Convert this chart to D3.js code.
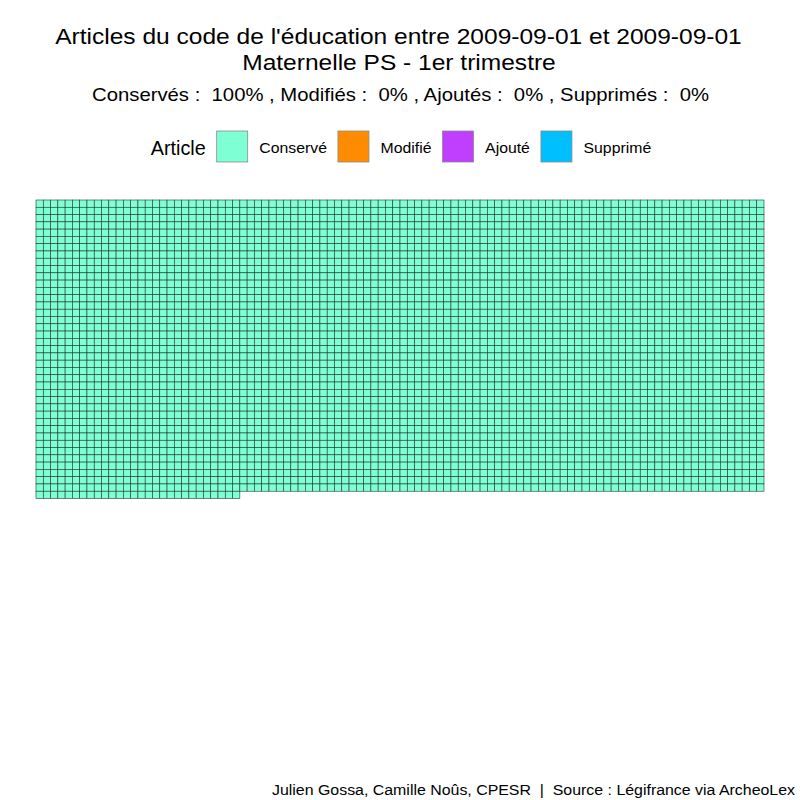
<!DOCTYPE html>
<html>
<head>
<meta charset="utf-8">
<script src="https://cdn.jsdelivr.net/npm/d3@7"></script>
<style>
  body { margin: 0; background: #fff; }
  svg { display: block; font-family: "Liberation Sans", Arial, Helvetica, sans-serif; }
  text { white-space: pre; }
</style>
</head>
<body>
<svg id="chart" width="800" height="800"></svg>
<script>
// ---- Data ----
const categories = ["Conservé", "Modifié", "Ajouté", "Supprimé"];
const counts = [4028, 0, 0, 0];
const colors = ["#7FFFD4", "#FF8C00", "#BF3EFF", "#00BFFF"];
const titleLines = ["Articles du code de l'éducation entre 2009-09-01 et 2009-09-01", "Maternelle PS - 1er trimestre"];
const subtitle = "Conservés :  100% , Modifiés :  0% , Ajoutés :  0% , Supprimés :  0%";
const caption = "Julien Gossa, Camille Noûs, CPESR  |  Source : Légifrance via ArcheoLex";
const legendTitle = "Article";
const nCols = 100;

// ---- Build cells ----
const cells = [];
categories.forEach((c, ci) => {
  for (let k = 0; k < counts[ci]; k++) cells.push({ cat: c, color: colors[ci] });
});
cells.forEach((d, i) => { d.col = i % nCols; d.row = Math.floor(i / nCols); });
const nRows = Math.ceil(cells.length / nCols);

const svg = d3.select("#chart");

// horizontal stretch helper (reference glyphs are wider than local font)
function stretch(sel, k) {
  const w = sel.node().getComputedTextLength();
  sel.attr("textLength", w * k).attr("lengthAdjust", "spacingAndGlyphs");
  return w * k;
}
const K = 1.115;
const KL = 1.09;

// ---- Titles ----
stretch(svg.append("text").attr("x", 398.5).attr("y", 44).attr("text-anchor", "middle")
  .attr("font-size", 22).attr("fill", "#000").text(titleLines[0]), K);
stretch(svg.append("text").attr("x", 399).attr("y", 69.5).attr("text-anchor", "middle")
  .attr("font-size", 22).attr("fill", "#000").text(titleLines[1]), K);
{
  const t = svg.append("text").attr("x", 400.5).attr("y", 101).attr("text-anchor", "middle")
    .attr("font-size", 19).attr("fill", "#000").text(subtitle);
  stretch(t, 617 / t.node().getComputedTextLength());
}
{
  const t = svg.append("text").attr("x", 795).attr("y", 795).attr("text-anchor", "end")
    .attr("font-size", 14).attr("fill", "#000").text(caption);
  stretch(t, 523 / t.node().getComputedTextLength());
}

// ---- Legend ----
const lg = svg.append("g");
const lt = lg.append("text").attr("x", 150.7).attr("y", 155.3).attr("font-size", 19.5).text(legendTitle);
const ltw = stretch(lt, 55 / lt.node().getComputedTextLength());
let lx = 150.7 + ltw + 11;
categories.forEach((c, i) => {
  lg.append("rect").attr("x", lx).attr("y", 131).attr("width", 31).attr("height", 31)
    .attr("fill", colors[i]).attr("stroke", "#8a8a8a").attr("stroke-width", 0.8);
  const t = lg.append("text").attr("x", lx + 42.6).attr("y", 153).attr("font-size", 14.5).text(c);
  const w = stretch(t, KL);
  lx = lx + 42.6 + w + 11;
});

// ---- Waffle ----
const x = d3.scaleBand().domain(d3.range(nCols)).range([36, 764]).padding(0);
const y = d3.scaleBand().domain(d3.range(nRows)).range([200, 498.5]).padding(0);

svg.append("g").selectAll("rect").data(cells).join("rect")
  .attr("x", d => x(d.col))
  .attr("y", d => y(d.row))
  .attr("width", x.bandwidth())
  .attr("height", y.bandwidth())
  .attr("fill", d => d.color)
  .attr("stroke", "#1f3b34")
  .attr("stroke-width", 0.6);
</script>
</body>
</html>
